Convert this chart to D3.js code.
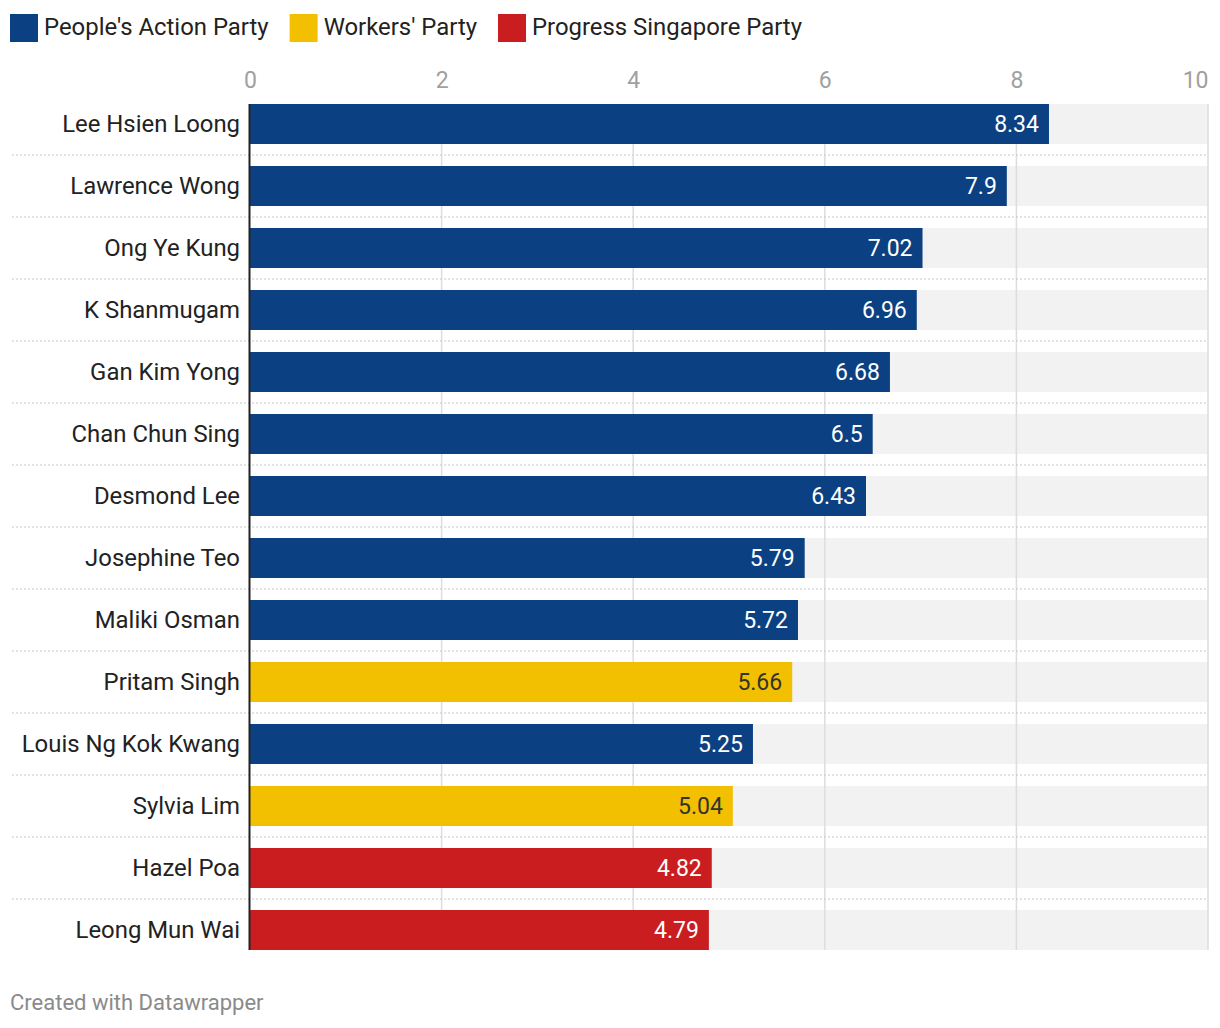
<!DOCTYPE html>
<html><head><meta charset="utf-8">
<script src="https://cdn.jsdelivr.net/npm/d3@7"></script>
<style>body{margin:0;background:#fff;font-family:Roboto,"Noto Sans",sans-serif;}</style>
</head><body><div id="chart"></div>
<script>
const names = ["Lee Hsien Loong","Lawrence Wong","Ong Ye Kung","K Shanmugam","Gan Kim Yong","Chan Chun Sing","Desmond Lee","Josephine Teo","Maliki Osman","Pritam Singh","Louis Ng Kok Kwang","Sylvia Lim","Hazel Poa","Leong Mun Wai"];
const values = [8.34,7.9,7.02,6.96,6.68,6.5,6.43,5.79,5.72,5.66,5.25,5.04,4.82,4.79];
const parties = ["PAP","PAP","PAP","PAP","PAP","PAP","PAP","PAP","PAP","WP","PAP","WP","PSP","PSP"];
const partyKeys = ["PAP","WP","PSP"];
const partyLabels = ["People's Action Party","Workers' Party","Progress Singapore Party"];
const partyColors = ["#0b4183","#f2c000","#c91d1f"];
const labelColors = ["#ffffff","#333333","#ffffff"];
const ticks = [0,2,4,6,8,10];

const W=1220,H=1028;
const svg=d3.select("#chart").append("svg").attr("width",W).attr("height",H);
const x=d3.scaleLinear().domain([0,10]).range([250,1208]);
const y=d3.scaleBand().domain(names).range([104-11,950+11]).paddingInner(22/62).paddingOuter(11/62);
const col=d3.scaleOrdinal().domain(partyKeys).range(partyColors);
const lcol=d3.scaleOrdinal().domain(partyKeys).range(labelColors);

// legend
const leg=svg.append("g");
let lx=10;
partyKeys.forEach((k,i)=>{
  leg.append("rect").attr("x",lx).attr("y",14).attr("width",28).attr("height",28).attr("fill",partyColors[i]);
  const t=leg.append("text").attr("x",lx+34).attr("y",35).attr("font-size",23.9).attr("fill","#222").text(partyLabels[i]);
  lx+=34+t.node().getComputedTextLength()+21;
});

// background bars
svg.append("g").selectAll("rect").data(names).join("rect")
  .attr("x",x(0)).attr("width",x(10)-x(0)).attr("y",d=>y(d)).attr("height",y.bandwidth()).attr("fill","#f2f2f2");

// gridlines
svg.append("g").selectAll("line").data(ticks.slice(1)).join("line")
  .attr("x1",d=>x(d)).attr("x2",d=>x(d)).attr("y1",y(names[0])).attr("y2",y(names[names.length-1])+y.bandwidth())
  .attr("stroke","#dddddd").attr("stroke-width",1.5);

// separators
svg.append("g").selectAll("line").data(names.slice(1)).join("line")
  .attr("x1",12).attr("x2",x(10)).attr("y1",d=>y(d)-11).attr("y2",d=>y(d)-11)
  .attr("stroke","#c8c8c8").attr("stroke-width",1.2).attr("stroke-dasharray","2,2");

// axis ticks
const ax=svg.append("g").attr("transform","translate(0,88)")
  .call(d3.axisTop(x).tickValues(ticks).tickSize(0).tickPadding(0));
ax.select(".domain").remove();
ax.selectAll("text").attr("font-size",23).attr("fill","#a0a0a0").attr("font-family","Roboto,sans-serif").attr("dy","0")
  .attr("text-anchor",d=>d===10?"end":"middle");

// bars
svg.append("g").selectAll("rect").data(names).join("rect")
  .attr("x",x(0)).attr("y",d=>y(d)).attr("height",y.bandwidth())
  .attr("width",(d,i)=>x(values[i])-x(0)).attr("fill",(d,i)=>col(parties[i]));

// value labels
svg.append("g").selectAll("text").data(names).join("text")
  .attr("x",(d,i)=>x(values[i])-10).attr("y",d=>y(d)+y.bandwidth()/2+8)
  .attr("text-anchor","end").attr("font-size",23).attr("fill",(d,i)=>lcol(parties[i]))
  .text((d,i)=>values[i]);

// category labels
const yax=svg.append("g").attr("transform","translate(240,0)")
  .call(d3.axisLeft(y).tickSize(0).tickPadding(0));
yax.select(".domain").remove();
yax.selectAll("text").attr("font-size",23.9).attr("fill","#222").attr("font-family","Roboto,sans-serif");

// zero axis line
svg.append("line").attr("x1",x(0)-0.5).attr("x2",x(0)-0.5).attr("y1",y(names[0])).attr("y2",y(names[names.length-1])+y.bandwidth())
  .attr("stroke","#222").attr("stroke-width",2);

svg.append("text").attr("x",10).attr("y",1010).attr("font-size",22).attr("fill","#8a8a8a").text("Created with Datawrapper");
</script></body></html>
